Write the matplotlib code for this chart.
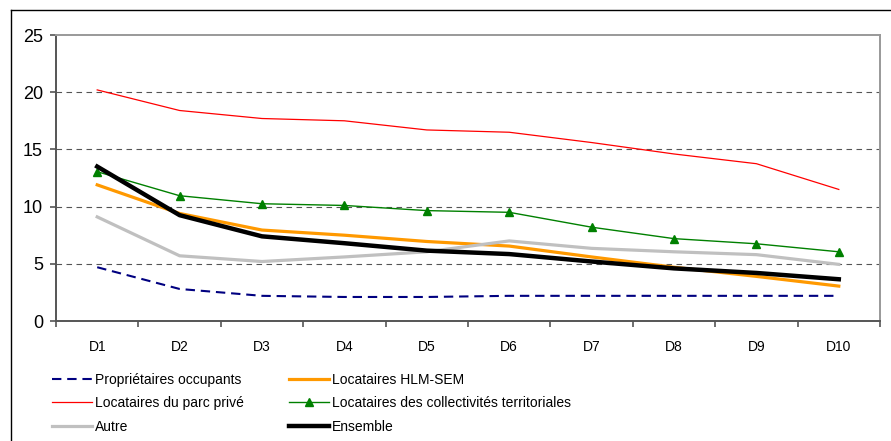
import matplotlib
matplotlib.use("Agg")
import matplotlib.pyplot as plt
from matplotlib.lines import Line2D
import numpy as np

# deciles
categories = ["D1", "D2", "D3", "D4", "D5", "D6", "D7", "D8", "D9", "D10"]

proprietaires = [4.7, 2.8, 2.2, 2.1, 2.1, 2.2, 2.2, 2.2, 2.2, 2.2]
hlm_sem = [11.9, 9.4, 7.95, 7.5, 6.95, 6.55, 5.6, 4.7, 3.9, 3.05]
parc_prive = [20.2, 18.4, 17.7, 17.5, 16.7, 16.5, 15.6, 14.6, 13.75, 11.5]
collectivites = [13.05, 10.95, 10.25, 10.1, 9.65, 9.5, 8.2, 7.2, 6.75, 6.05]
autre = [9.1, 5.7, 5.2, 5.6, 6.05, 7.0, 6.35, 6.05, 5.8, 4.95]
ensemble = [13.5, 9.25, 7.4, 6.8, 6.15, 5.85, 5.2, 4.6, 4.2, 3.65]

labels = ["Propriétaires occupants", "Locataires HLM-SEM",
          "Locataires du parc privé", "Locataires des collectivités territoriales",
          "Autre", "Ensemble"]

plt.rcParams['font.family'] = ['Liberation Sans', 'DejaVu Sans']

W, H = 891, 441
fig = plt.figure(figsize=(W / 100, H / 100), dpi=100)
ax = fig.add_axes([56 / W, 1 - 321 / H, (880 - 56) / W, (321 - 35) / H])

x = np.arange(len(categories))

l1, = ax.plot(x, proprietaires, color="#000080", lw=1.5, dashes=(4.5, 2.8))
l2, = ax.plot(x, hlm_sem, color="#FF9900", lw=2.3)
l3, = ax.plot(x, parc_prive, color="#FF0000", lw=0.9)
l4, = ax.plot(x, collectivites, color="#008000", lw=1.0, marker="^", ms=5.5)
l5, = ax.plot(x, autre, color="#C0C0C0", lw=2.3)
l6, = ax.plot(x, ensemble, color="#000000", lw=3.2)

ax.set_xlim(-0.5, len(categories) - 0.5)
ax.set_ylim(0, 25)
ax.set_yticks([0, 5, 10, 15, 20, 25])
for v in [5, 10, 15, 20]:
    ax.axhline(v, color="#555555", lw=0.8, dashes=(5, 4), zorder=0)

ax.set_xticks(x)
ax.set_xticklabels(categories, fontsize=10)
ax.set_xticks(np.arange(len(categories) + 1) - 0.5, minor=True)
ax.tick_params(axis="x", which="major", length=0, pad=14)
ax.tick_params(axis="x", which="minor", length=4, width=1.2, color="#555555")
ax.tick_params(axis="y", length=4.3, width=1.2, color="#555555", pad=5, labelsize=13)

for s in ["left", "bottom"]:
    ax.spines[s].set_color("#555555")
    ax.spines[s].set_linewidth(1.4)
for s in ["top", "right"]:
    ax.spines[s].set_color("#999999")
    ax.spines[s].set_linewidth(1.4)

# outer frame (cropped)
fig.add_artist(Line2D([11 / W, 11 / W], [0, 1 - 10 / H], color="black", lw=1))
fig.add_artist(Line2D([11 / W, 1], [1 - 10 / H, 1 - 10 / H], color="black", lw=1))

leg_kw = dict(frameon=False, handlelength=2.9, handletextpad=0.2,
              labelspacing=0.67, borderpad=0, borderaxespad=0,
              prop={'size': 10})
leg1 = fig.legend([l1, l3, l5], [labels[0], labels[2], labels[4]],
                  loc="upper left", bbox_to_anchor=(52 / W, 1 - 373 / H), **leg_kw)
leg2 = fig.legend([l2, l4, l6], [labels[1], labels[3], labels[5]],
                  loc="upper left", bbox_to_anchor=(289 / W, 1 - 373 / H), **leg_kw)

fig.savefig("out.png", dpi=100)
